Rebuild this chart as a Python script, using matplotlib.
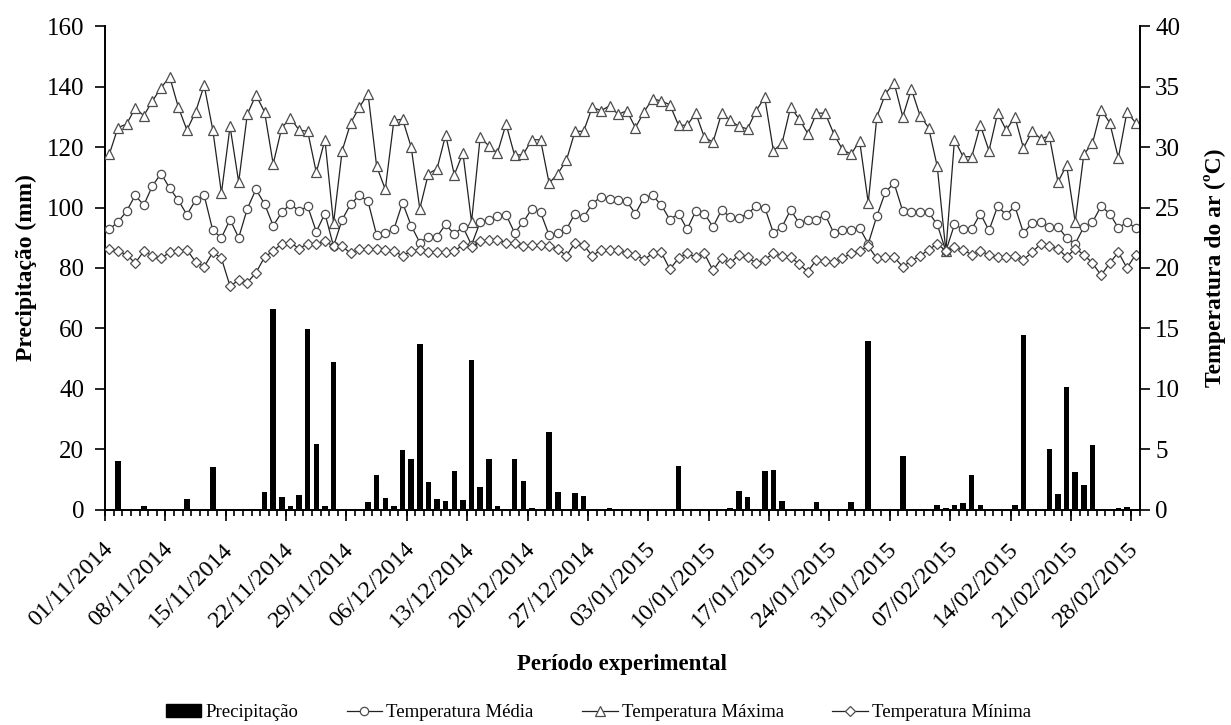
import matplotlib
matplotlib.use("Agg")
import matplotlib.pyplot as plt
import numpy as np
import pandas as pd
from matplotlib.lines import Line2D
from matplotlib.patches import Patch

# daily series, 01/11/2014 .. 28/02/2015
dates = pd.date_range("2014-11-01", "2015-02-28", freq="D")

precip = [
    0, 16.1, 0, 0.4, 1.3, 0, 0, 0, 0, 3.6,
    0, 0, 14.2, 0.3, 0, 0.3, 0, 0, 6.1, 66.5,
    4.2, 1.2, 5.0, 59.9, 21.9, 1.2, 48.9, 0, 0, 0,
    2.6, 11.4, 3.9, 1.4, 19.7, 16.9, 54.9, 9.2, 3.6, 2.9,
    12.8, 3.4, 49.7, 7.5, 16.9, 1.2, 0, 16.9, 9.5, 0.7,
    0, 25.7, 6.1, 0, 5.7, 4.6, 0, 0, 0.7, 0,
    0, 0, 0, 0, 0, 0, 14.7, 0.4, 0, 0.4,
    0, 0, 0.7, 6.4, 4.2, 0, 13.0, 13.3, 2.9, 0,
    0, 0, 2.6, 0, 0, 0.3, 2.6, 0.3, 56.0, 0,
    0, 0, 18.0, 0, 0, 0, 1.8, 0.7, 1.5, 2.3,
    11.7, 1.5, 0, 0, 0, 1.5, 57.7, 0, 0.3, 20.0,
    5.3, 40.8, 12.5, 8.4, 21.6, 0, 0, 0.7, 1.1, 0.3,
]

t_media = [
    23.2, 23.8, 24.7, 26.0, 25.2, 26.8, 27.8, 26.6, 25.6, 24.4,
    25.6, 26.0, 23.1, 22.5, 24.0, 22.5, 24.9, 26.5, 25.3, 23.5,
    24.6, 25.3, 24.7, 25.1, 23.0, 24.5, 21.8, 24.0, 25.3, 26.0,
    25.5, 22.7, 22.9, 23.2, 25.4, 23.5, 22.1, 22.6, 22.6, 23.6,
    22.8, 23.4, 21.9, 23.8, 24.0, 24.3, 24.4, 22.9, 23.8, 24.9,
    24.6, 22.7, 22.9, 23.2, 24.5, 24.2, 25.3, 25.9, 25.7, 25.6,
    25.5, 24.5, 25.8, 26.0, 25.2, 24.0, 24.5, 23.2, 24.7, 24.5,
    23.4, 24.8, 24.2, 24.1, 24.5, 25.1, 25.0, 22.9, 23.4, 24.8,
    23.7, 24.0, 24.0, 24.4, 22.9, 23.1, 23.1, 23.3, 22.0, 24.3,
    26.3, 27.0, 24.7, 24.6, 24.6, 24.6, 23.6, 21.4, 23.6, 23.2,
    23.2, 24.5, 23.1, 25.1, 24.4, 25.1, 22.9, 23.7, 23.8, 23.4,
    23.4, 22.5, 22.0, 23.4, 23.8, 25.1, 24.5, 23.3, 23.8, 23.3,
]

t_max = [
    29.4, 31.6, 31.9, 33.2, 32.6, 33.8, 34.9, 35.8, 33.3, 31.4,
    32.9, 35.1, 31.4, 26.2, 31.7, 27.1, 32.7, 34.3, 32.9, 28.6,
    31.6, 32.4, 31.4, 31.3, 27.9, 30.6, 23.7, 29.7, 32.0, 33.3,
    34.4, 28.4, 26.5, 32.2, 32.3, 30.0, 24.9, 27.8, 28.2, 31.0,
    27.7, 29.5, 23.8, 30.8, 30.1, 29.5, 31.9, 29.3, 29.4, 30.6,
    30.6, 27.0, 27.8, 28.9, 31.3, 31.3, 33.3, 33.0, 33.4, 32.7,
    33.0, 31.6, 32.9, 34.0, 33.8, 33.5, 31.8, 31.8, 32.8, 30.8,
    30.4, 32.8, 32.2, 31.7, 31.5, 33.0, 34.1, 29.7, 30.3, 33.3,
    32.3, 31.1, 32.8, 32.8, 31.1, 29.8, 29.4, 30.5, 25.4, 32.5,
    34.4, 35.3, 32.5, 34.8, 32.6, 31.6, 28.4, 21.4, 30.6, 29.2,
    29.2, 31.8, 29.7, 32.8, 31.4, 32.5, 29.9, 31.3, 30.7, 30.9,
    27.1, 28.5, 23.8, 29.4, 30.3, 33.1, 32.0, 29.1, 32.9, 32.0,
]

t_min = [
    21.6, 21.4, 21.1, 20.4, 21.4, 21.0, 20.8, 21.3, 21.4, 21.5,
    20.5, 20.1, 21.3, 20.8, 18.5, 19.0, 18.8, 19.6, 20.9, 21.4,
    22.0, 22.1, 21.6, 22.0, 22.0, 22.2, 21.8, 21.8, 21.2, 21.6,
    21.6, 21.6, 21.5, 21.4, 21.0, 21.4, 21.5, 21.3, 21.3, 21.3,
    21.4, 21.9, 21.7, 22.2, 22.3, 22.3, 22.1, 22.1, 21.8, 21.9,
    21.9, 21.8, 21.6, 21.0, 22.1, 21.9, 21.0, 21.5, 21.5, 21.5,
    21.2, 21.1, 20.7, 21.2, 21.3, 19.9, 20.8, 21.2, 20.9, 21.2,
    19.8, 20.8, 20.4, 21.1, 20.9, 20.4, 20.7, 21.2, 21.0, 20.9,
    20.3, 19.7, 20.7, 20.6, 20.5, 20.8, 21.2, 21.4, 21.8, 20.8,
    20.9, 20.9, 20.1, 20.6, 21.0, 21.5, 22.0, 21.4, 21.7, 21.5,
    21.1, 21.4, 21.1, 20.9, 20.9, 21.0, 20.7, 21.3, 22.0, 21.8,
    21.6, 20.9, 21.6, 21.1, 20.4, 19.4, 20.4, 21.3, 20.0, 21.1,
]

label_step = 7
tick_labels = [d.strftime("%d/%m/%Y") for d in dates[::label_step]]

plt.rcParams["font.family"] = ["Liberation Serif", "DejaVu Serif"]
plt.rcParams["font.size"] = 18

fig = plt.figure(figsize=(12.31, 7.25), dpi=100)
ax = fig.add_axes([0.0853, 0.2966, 0.8407, 0.6675])
ax2 = ax.twinx()

x = np.arange(len(dates))
ax.bar(x, precip, width=0.64, color="black", zorder=2)

line_kw = dict(color="#222222", lw=0.9, markerfacecolor="white",
               markeredgecolor="#4d4d4d", markeredgewidth=0.9)
ax2.plot(x, t_max, marker="^", ms=6.6, **line_kw)
ax2.plot(x, t_media, marker="o", ms=6.0, **line_kw)
ax2.plot(x, t_min, marker="D", ms=4.9, **line_kw)

ax.set_xlim(-0.5, len(dates) - 0.5)
ax.set_ylim(0, 160)
ax.set_yticks(np.arange(0, 161, 20))
ax2.set_ylim(0, 40)
ax2.set_yticks(np.arange(0, 41, 5))

# labels at category centres, ticks on category boundaries
ax.set_xticks(x[::label_step])
ax.set_xticklabels(tick_labels, rotation=45, ha="right", va="center",
                   rotation_mode="anchor", fontsize=17.5)
ax.tick_params(axis="x", which="major", length=0, pad=26)
ax.set_xticks(np.arange(len(dates) + 1) - 0.5, minor=True)
ax.tick_params(axis="x", which="minor", length=4, width=1.2, direction="out")
sec = ax.secondary_xaxis("bottom")
sec.set_xticks(np.arange(0, len(dates) + 1, label_step) - 0.5)
sec.set_xticklabels([])
sec.tick_params(length=8, width=1.2, direction="out")
sec.spines["bottom"].set_linewidth(1.4)

ax.tick_params(axis="y", length=7, width=1.2, direction="out", pad=8)
ax2.tick_params(axis="y", length=7, width=1.2, direction="out", pad=4)

for a in (ax, ax2):
    a.spines["top"].set_visible(False)
ax.spines["right"].set_visible(False)
ax2.spines["left"].set_visible(False)
ax2.spines["bottom"].set_visible(False)
ax.spines["left"].set_linewidth(1.4)
ax.spines["bottom"].set_linewidth(1.4)
ax2.spines["right"].set_linewidth(1.4)

ax.set_ylabel("Precipitação (mm)", fontweight="bold", fontsize=17)
ax.yaxis.set_label_coords(-0.066, 0.5)
ax2.set_ylabel("Temperatura do ar (ºC)", fontweight="bold", fontsize=17)
ax2.yaxis.set_label_coords(1.062, 0.5)
ax.set_xlabel("Período experimental", fontweight="bold", fontsize=16.5)
ax.xaxis.set_label_coords(0.5, -0.297)

handles = [
    Patch(facecolor="black", edgecolor="black"),
    Line2D([], [], marker="o", ms=6.0, **line_kw),
    Line2D([], [], marker="^", ms=6.6, **line_kw),
    Line2D([], [], marker="D", ms=4.9, **line_kw),
]
labels = ["Precipitação", "Temperatura Média", "Temperatura Máxima", "Temperatura Mínima"]
fig.legend(handles, labels, loc="center", bbox_to_anchor=(0.486, 0.017), ncol=4,
           frameon=False, fontsize=13.5, handlelength=1.9, handletextpad=0.2,
           columnspacing=2.6)

fig.savefig("out.png", dpi=100)
